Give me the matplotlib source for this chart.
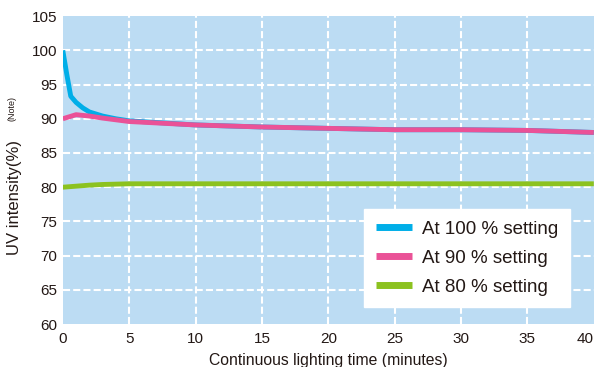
import matplotlib
matplotlib.use('Agg')
import matplotlib.pyplot as plt

plt.rcParams['font.family'] = ['Liberation Sans', 'DejaVu Sans']

# minutes of continuous lighting
t_100 = [0, 0.3, 0.6, 1, 1.5, 2, 3, 4, 5, 10, 15, 20, 25, 30, 35, 40]
uv_100 = [100, 96.5, 93.3, 92.4, 91.6, 91.0, 90.4, 90.0, 89.7, 89.1, 88.8, 88.6, 88.4, 88.4, 88.3, 88.0]

t_90 = [0, 0.5, 1, 2, 3, 5, 10, 15, 20, 25, 30, 35, 40]
uv_90 = [90.0, 90.3, 90.6, 90.4, 90.1, 89.6, 89.1, 88.8, 88.6, 88.4, 88.4, 88.3, 88.0]

t_80 = [0, 1, 2, 3, 4, 5, 10, 20, 30, 40]
uv_80 = [80.0, 80.15, 80.3, 80.4, 80.45, 80.5, 80.5, 80.5, 80.5, 80.5]

labels = ['At 100 % setting', 'At 90 % setting', 'At 80 % setting']
colors = ['#00aee8', '#ea5297', '#8cc21f']

fig = plt.figure(figsize=(5.98, 3.67), dpi=100)
ax = fig.add_axes([0.105, 0.117, 0.888, 0.839])
ax.set_facecolor('#bcdcf3')

ax.plot(t_100, uv_100, color=colors[0], lw=3.5, label=labels[0], solid_capstyle='butt')
ax.plot(t_90, uv_90, color=colors[1], lw=3.5, label=labels[1], solid_capstyle='butt')
ax.plot(t_80, uv_80, color=colors[2], lw=3.5, label=labels[2], solid_capstyle='butt')

ax.set_xlim(0, 40)
ax.set_ylim(60, 105)
ax.set_xticks(range(0, 41, 5))
ax.set_yticks(range(60, 106, 5))
ax.grid(True, color='white', linestyle=(0, (3.4, 1.5)), lw=1.5)
ax.set_axisbelow(True)
# no grid on the frame edges
for gl in [ax.xaxis.get_gridlines()[0], ax.xaxis.get_gridlines()[-1],
           ax.yaxis.get_gridlines()[0], ax.yaxis.get_gridlines()[-1]]:
    gl.set_visible(False)
for s in ax.spines.values():
    s.set_visible(False)
ax.tick_params(length=0, labelsize=11, colors='#231815', pad=4)
ax.tick_params(axis='x', pad=6)
ax.get_xticklabels()[-1].set_horizontalalignment('right')

ax.set_xlabel('Continuous lighting time (minutes)', fontsize=11.3, color='#231815', labelpad=5)
fig.text(0.024, 0.463, 'UV intensity(%)', rotation=90, fontsize=12, color='#231815',
         ha='center', va='center')
fig.text(0.02, 0.703, '(Note)', rotation=90, fontsize=6.5, color='#231815',
         ha='center', va='center')

leg = ax.legend(loc='lower right', bbox_to_anchor=(0.955, 0.055), fontsize=13.5,
                frameon=True, fancybox=False, handlelength=1.9, handletextpad=0.55,
                labelspacing=0.62, borderpad=0.62, borderaxespad=0)
leg.get_frame().set_edgecolor('white')
leg.get_frame().set_facecolor('white')
leg.get_frame().set_alpha(1)
for h in leg.get_lines():
    h.set_linewidth(5)
for txt in leg.get_texts():
    txt.set_color('#231815')

fig.savefig('out.png', dpi=100)
